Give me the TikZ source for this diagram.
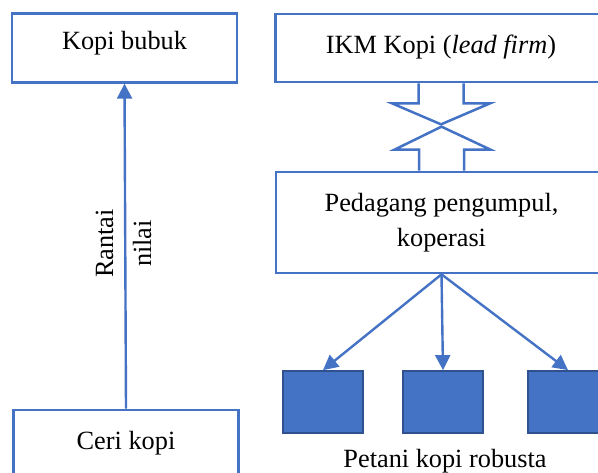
\documentclass[tikz,border=0pt]{standalone}
\usepackage{fontspec}
\setmainfont{Liberation Serif}
\usetikzlibrary{arrows.meta,calc}
\definecolor{wblue}{RGB}{68,114,196}
\definecolor{wdark}{RGB}{47,82,143}
\begin{document}
\begin{tikzpicture}[x=1pt,y=-1pt,
  every node/.style={font=\fontsize{26.3}{35}\selectfont},
  box/.style={draw=wblue, line width=2.7pt, fill=white, inner sep=0pt},
  farmer/.style={draw=wdark, line width=1.8pt, fill=wblue, minimum width=80pt, minimum height=62pt, inner sep=0pt},
  arr/.style={draw=wblue, line width=2.4pt, -{Triangle[length=15pt,width=15pt]}},
  dbl/.style={draw=wblue, line width=2.5pt, line join=miter}
]
\useasboundingbox (0,0) rectangle (598,472);
\clip (0,0) rectangle (598,472);

% left column
\node[box, minimum width=225pt, minimum height=69pt, text height=18pt, text depth=15pt] (kb) at (124.5,47.8) {Kopi bubuk};
\node[box, minimum width=225pt, minimum height=69pt, text height=18pt, text depth=9pt] (ceri) at (126,444.5) {Ceri kopi};
\draw[arr] (ceri.north) -- (kb.south);
\node[rotate=90, align=center, font=\fontsize{26.3}{38}\selectfont] (rn) at (123.5,243.5) {Rantai\\nilai};

% right column
\node[box, minimum width=331pt, minimum height=68pt, text height=18pt, text depth=8pt] (ikm) at (441,48) {IKM Kopi (\textit{lead firm})};
\node[box, minimum width=331pt, minimum height=101pt, align=center] (ped) at (441.5,222.5) {Pedagang pengumpul,\\koperasi};

% double block arrow
\draw[dbl] ($(ikm.south)+(-22.5,0)$) -- ++(0,20) -- ++(-26.5,0) -- ++(49,21) -- ++(49,-21) -- ++(-26.5,0) -- ++(0,-20);
\draw[dbl] ($(ped.north)+(-22.5,0)$) -- ++(0,-21) -- ++(-24.5,0) -- ++(47,-23) -- ++(49,23) -- ++(-26.5,0) -- ++(0,21);

% farmers
\node[farmer] (s1) at (323,402) {};
\node[farmer] (s2) at (443,402) {};
\node[farmer] (s3) at (568,402) {};
\draw[arr] (ped.south) -- (s1.north);
\draw[arr] (ped.south) -- (s2.north);
\draw[arr] (ped.south) -- (s3.north);
\node[anchor=base] (pt) at (445,467.5) {Petani kopi robusta};
\end{tikzpicture}
\end{document}
